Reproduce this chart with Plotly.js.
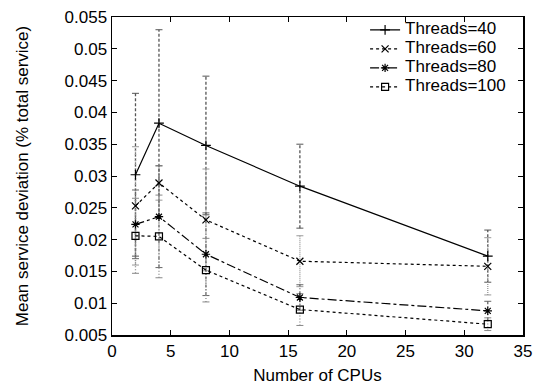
<!DOCTYPE html>
<html>
<head>
<meta charset="utf-8">
<script src="https://cdn.plot.ly/plotly-3.0.1.min.js"></script>
<style>html,body{margin:0;padding:0;background:#fff}</style>
</head>
<body>
<div id="chart" style="width:534px;height:392px"></div>
<script>
const cpus = [2, 4, 8, 16, 32];
const seriesNames = ["Threads=40", "Threads=60", "Threads=80", "Threads=100"];
const t40 = [0.0302, 0.0383, 0.0348, 0.0284, 0.0174];
const t40err = [0.0128, 0.0147, 0.0109, 0.0066, 0.0041];
const t60 = [0.0253, 0.0289, 0.0231, 0.0166, 0.0158];
const t60err = [0.0093, 0.0027, 0.0080, 0.0040, 0.0045];
const t80 = [0.0224, 0.0236, 0.0177, 0.0109, 0.0088];
const t80err = [0.0054, 0.0080, 0.0065, 0.0020, 0.0015];
const t100 = [0.0206, 0.0205, 0.0152, 0.0090, 0.0067];
const t100err = [0.0059, 0.0065, 0.0050, 0.0025, 0.0010];

const values = [t40, t60, t80, t100];
const errs = [t40err, t60err, t80err, t100err];
const dashes = ["solid", "dot", "dashdot", "dot"];
const errDashes = ["3px,2px", "1px,1px", "3px,2px,1px,2px", "1px,2px"];
const errColors = ["#555", "#999", "#666", "#888"];
const symbols = ["cross-thin-open", "x-thin-open", "asterisk-open", "square-open"];

const traces = [];
// error bars (dashed, grey) built from the data arrays
values.forEach((v, i) => {
  const ex = [], ey = [], cx = [], cy = [];
  cpus.forEach((c, k) => {
    ex.push(c, c, null);
    ey.push(v[k] - errs[i][k], v[k] + errs[i][k], null);
    cx.push(c, c);
    cy.push(v[k] - errs[i][k], v[k] + errs[i][k]);
  });
  traces.push({x: ex, y: ey, type: "scatter", mode: "lines", showlegend: false, hoverinfo: "skip",
    line: {color: errColors[i], width: 1.3, dash: errDashes[i]}});
  traces.push({x: cx, y: cy, type: "scatter", mode: "markers", showlegend: false, hoverinfo: "skip",
    marker: {symbol: "line-ew-open", size: 5, color: errColors[i], line: {color: errColors[i], width: 1}}});
});
values.forEach((v, i) => {
  traces.push({
    x: cpus, y: v, type: "scatter", mode: "lines+markers",
    name: '<span style="font-size:17px">' + seriesNames[i] + '</span>',
    line: {color: "#000", width: 1.2, dash: dashes[i]},
    marker: {symbol: symbols[i], size: 7, color: "#000", line: {color: "#000", width: 1.2}}
  });
});

const fam = "Liberation Sans, Arial, Helvetica, sans-serif";
const font = {family: fam, size: 17, color: "#000"};
const layout = {
  width: 534, height: 392,
  margin: {l: 112, r: 11, t: 17, b: 57},
  paper_bgcolor: "#fff", plot_bgcolor: "#fff",
  font: font,
  showlegend: true,
  legend: {x: 0.971, xanchor: "right", y: 1.005, yanchor: "top", bgcolor: "rgba(0,0,0,0)",
           font: {family: fam, size: 9.6, color: "#000"}, tracegroupgap: 0},
  xaxis: {range: [0, 35], dtick: 5, tick0: 0, showgrid: false, zeroline: false,
          showline: true, linecolor: "#000", linewidth: 1.5, mirror: "ticks",
          ticks: "inside", ticklen: 5, tickcolor: "#000", tickfont: font,
          title: {text: "Number of CPUs", font: font, standoff: 9}},
  yaxis: {range: [0.005, 0.055], dtick: 0.005, tick0: 0.005, showgrid: false, zeroline: false,
          showline: true, linecolor: "#000", linewidth: 1.5, mirror: "ticks",
          ticks: "inside", ticklen: 5, tickcolor: "#000", tickformat: "~r", tickfont: font,
          title: {text: "Mean service deviation (% total service)", font: font, standoff: 31}}
};
Plotly.newPlot("chart", traces, layout, {displayModeBar: false, staticPlot: true});
</script>
</body>
</html>
